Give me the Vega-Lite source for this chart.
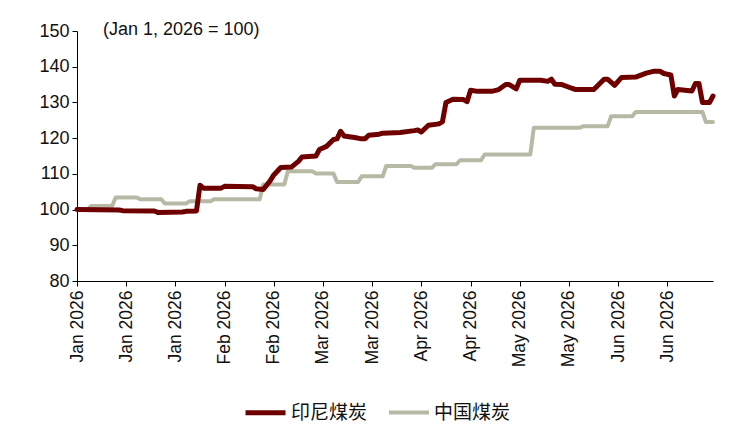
{
  "$schema": "https://vega.github.io/schema/vega-lite/v6.json",
  "width": 636,
  "height": 250,
  "autosize": {"type": "none"},
  "padding": {"left": 77, "top": 31, "right": 21, "bottom": 157},
  "background": "white",
  "title": {
    "text": "(Jan 1, 2026 = 100)",
    "anchor": "start",
    "frame": "group",
    "dx": 26,
    "offset": -17,
    "font": "Liberation Sans",
    "fontSize": 18,
    "fontWeight": "normal",
    "color": "#111111"
  },
  "config": {
    "view": {"stroke": null},
    "font": "Liberation Sans",
    "axis": {
      "grid": false,
      "domainColor": "black",
      "tickColor": "black",
      "labelColor": "#111111",
      "labelFont": "Liberation Sans",
      "labelFontSize": 17.5,
      "labelOverlap": false,
      "tickSize": 5,
      "title": null
    }
  },
  "data": {
    "values": [
      {"series": "中国煤炭", "date": "2026-01-01", "value": 100.0},
      {"series": "中国煤炭", "date": "2026-01-04", "value": 100.0},
      {"series": "中国煤炭", "date": "2026-01-05", "value": 101.0},
      {"series": "中国煤炭", "date": "2026-01-11", "value": 101.0},
      {"series": "中国煤炭", "date": "2026-01-12", "value": 103.4},
      {"series": "中国煤炭", "date": "2026-01-18", "value": 103.4},
      {"series": "中国煤炭", "date": "2026-01-19", "value": 102.9},
      {"series": "中国煤炭", "date": "2026-01-25", "value": 102.9},
      {"series": "中国煤炭", "date": "2026-01-26", "value": 101.7},
      {"series": "中国煤炭", "date": "2026-02-01", "value": 101.7},
      {"series": "中国煤炭", "date": "2026-02-02", "value": 102.3},
      {"series": "中国煤炭", "date": "2026-02-08", "value": 102.3},
      {"series": "中国煤炭", "date": "2026-02-09", "value": 102.9},
      {"series": "中国煤炭", "date": "2026-02-22", "value": 102.9},
      {"series": "中国煤炭", "date": "2026-02-23", "value": 107.0},
      {"series": "中国煤炭", "date": "2026-03-01", "value": 107.0},
      {"series": "中国煤炭", "date": "2026-03-02", "value": 110.7},
      {"series": "中国煤炭", "date": "2026-03-09", "value": 110.7},
      {"series": "中国煤炭", "date": "2026-03-10", "value": 110.1},
      {"series": "中国煤炭", "date": "2026-03-15", "value": 110.1},
      {"series": "中国煤炭", "date": "2026-03-16", "value": 107.7},
      {"series": "中国煤炭", "date": "2026-03-22", "value": 107.7},
      {"series": "中国煤炭", "date": "2026-03-23", "value": 109.3},
      {"series": "中国煤炭", "date": "2026-03-29", "value": 109.3},
      {"series": "中国煤炭", "date": "2026-03-30", "value": 112.2},
      {"series": "中国煤炭", "date": "2026-04-06", "value": 112.2},
      {"series": "中国煤炭", "date": "2026-04-07", "value": 111.7},
      {"series": "中国煤炭", "date": "2026-04-12", "value": 111.7},
      {"series": "中国煤炭", "date": "2026-04-13", "value": 112.7},
      {"series": "中国煤炭", "date": "2026-04-19", "value": 112.7},
      {"series": "中国煤炭", "date": "2026-04-20", "value": 113.8},
      {"series": "中国煤炭", "date": "2026-04-26", "value": 113.8},
      {"series": "中国煤炭", "date": "2026-04-27", "value": 115.4},
      {"series": "中国煤炭", "date": "2026-05-10", "value": 115.4},
      {"series": "中国煤炭", "date": "2026-05-11", "value": 122.9},
      {"series": "中国煤炭", "date": "2026-05-24", "value": 122.9},
      {"series": "中国煤炭", "date": "2026-05-25", "value": 123.3},
      {"series": "中国煤炭", "date": "2026-06-01", "value": 123.3},
      {"series": "中国煤炭", "date": "2026-06-02", "value": 126.1},
      {"series": "中国煤炭", "date": "2026-06-08", "value": 126.1},
      {"series": "中国煤炭", "date": "2026-06-09", "value": 127.3},
      {"series": "中国煤炭", "date": "2026-06-28", "value": 127.3},
      {"series": "中国煤炭", "date": "2026-06-29", "value": 124.5},
      {"series": "中国煤炭", "date": "2026-07-01", "value": 124.5},
      {"series": "印尼煤炭", "date": "2026-01-01", "value": 100.0},
      {"series": "印尼煤炭", "date": "2026-01-13", "value": 99.9},
      {"series": "印尼煤炭", "date": "2026-01-14", "value": 99.7},
      {"series": "印尼煤炭", "date": "2026-01-23", "value": 99.6},
      {"series": "印尼煤炭", "date": "2026-01-24", "value": 99.2},
      {"series": "印尼煤炭", "date": "2026-01-31", "value": 99.3},
      {"series": "印尼煤炭", "date": "2026-02-01", "value": 99.5},
      {"series": "印尼煤炭", "date": "2026-02-04", "value": 99.6},
      {"series": "印尼煤炭", "date": "2026-02-05", "value": 106.8},
      {"series": "印尼煤炭", "date": "2026-02-06", "value": 106.0},
      {"series": "印尼煤炭", "date": "2026-02-11", "value": 106.0},
      {"series": "印尼煤炭", "date": "2026-02-12", "value": 106.5},
      {"series": "印尼煤炭", "date": "2026-02-20", "value": 106.4},
      {"series": "印尼煤炭", "date": "2026-02-21", "value": 105.8},
      {"series": "印尼煤炭", "date": "2026-02-23", "value": 105.6},
      {"series": "印尼煤炭", "date": "2026-02-25", "value": 108.1},
      {"series": "印尼煤炭", "date": "2026-02-26", "value": 109.7},
      {"series": "印尼煤炭", "date": "2026-02-28", "value": 111.8},
      {"series": "印尼煤炭", "date": "2026-03-03", "value": 111.9},
      {"series": "印尼煤炭", "date": "2026-03-05", "value": 113.5},
      {"series": "印尼煤炭", "date": "2026-03-06", "value": 114.7},
      {"series": "印尼煤炭", "date": "2026-03-10", "value": 115.0},
      {"series": "印尼煤炭", "date": "2026-03-11", "value": 116.8},
      {"series": "印尼煤炭", "date": "2026-03-13", "value": 117.7},
      {"series": "印尼煤炭", "date": "2026-03-15", "value": 119.6},
      {"series": "印尼煤炭", "date": "2026-03-16", "value": 119.8},
      {"series": "印尼煤炭", "date": "2026-03-17", "value": 121.9},
      {"series": "印尼煤炭", "date": "2026-03-18", "value": 120.6},
      {"series": "印尼煤炭", "date": "2026-03-21", "value": 120.2},
      {"series": "印尼煤炭", "date": "2026-03-23", "value": 119.8},
      {"series": "印尼煤炭", "date": "2026-03-24", "value": 119.8},
      {"series": "印尼煤炭", "date": "2026-03-25", "value": 120.8},
      {"series": "印尼煤炭", "date": "2026-03-28", "value": 121.1},
      {"series": "印尼煤炭", "date": "2026-03-29", "value": 121.4},
      {"series": "印尼煤炭", "date": "2026-04-03", "value": 121.6},
      {"series": "印尼煤炭", "date": "2026-04-07", "value": 122.1},
      {"series": "印尼煤炭", "date": "2026-04-08", "value": 122.3},
      {"series": "印尼煤炭", "date": "2026-04-09", "value": 121.7},
      {"series": "印尼煤炭", "date": "2026-04-11", "value": 123.6},
      {"series": "印尼煤炭", "date": "2026-04-14", "value": 124.0},
      {"series": "印尼煤炭", "date": "2026-04-15", "value": 124.6},
      {"series": "印尼煤炭", "date": "2026-04-16", "value": 130.0},
      {"series": "印尼煤炭", "date": "2026-04-18", "value": 130.9},
      {"series": "印尼煤炭", "date": "2026-04-21", "value": 130.8},
      {"series": "印尼煤炭", "date": "2026-04-22", "value": 130.2},
      {"series": "印尼煤炭", "date": "2026-04-23", "value": 133.4},
      {"series": "印尼煤炭", "date": "2026-04-25", "value": 133.1},
      {"series": "印尼煤炭", "date": "2026-04-29", "value": 133.1},
      {"series": "印尼煤炭", "date": "2026-05-01", "value": 133.6},
      {"series": "印尼煤炭", "date": "2026-05-03", "value": 135.0},
      {"series": "印尼煤炭", "date": "2026-05-04", "value": 135.0},
      {"series": "印尼煤炭", "date": "2026-05-06", "value": 133.8},
      {"series": "印尼煤炭", "date": "2026-05-07", "value": 136.2},
      {"series": "印尼煤炭", "date": "2026-05-13", "value": 136.2},
      {"series": "印尼煤炭", "date": "2026-05-15", "value": 135.9},
      {"series": "印尼煤炭", "date": "2026-05-16", "value": 136.5},
      {"series": "印尼煤炭", "date": "2026-05-17", "value": 135.1},
      {"series": "印尼煤炭", "date": "2026-05-19", "value": 135.0},
      {"series": "印尼煤炭", "date": "2026-05-22", "value": 133.9},
      {"series": "印尼煤炭", "date": "2026-05-23", "value": 133.6},
      {"series": "印尼煤炭", "date": "2026-05-28", "value": 133.6},
      {"series": "印尼煤炭", "date": "2026-05-29", "value": 134.5},
      {"series": "印尼煤炭", "date": "2026-05-31", "value": 136.5},
      {"series": "印尼煤炭", "date": "2026-06-01", "value": 136.5},
      {"series": "印尼煤炭", "date": "2026-06-03", "value": 134.8},
      {"series": "印尼煤炭", "date": "2026-06-05", "value": 137.0},
      {"series": "印尼煤炭", "date": "2026-06-09", "value": 137.1},
      {"series": "印尼煤炭", "date": "2026-06-12", "value": 138.2},
      {"series": "印尼煤炭", "date": "2026-06-14", "value": 138.7},
      {"series": "印尼煤炭", "date": "2026-06-16", "value": 138.7},
      {"series": "印尼煤炭", "date": "2026-06-17", "value": 138.1},
      {"series": "印尼煤炭", "date": "2026-06-19", "value": 137.7},
      {"series": "印尼煤炭", "date": "2026-06-20", "value": 131.8},
      {"series": "印尼煤炭", "date": "2026-06-21", "value": 133.6},
      {"series": "印尼煤炭", "date": "2026-06-25", "value": 133.2},
      {"series": "印尼煤炭", "date": "2026-06-26", "value": 135.3},
      {"series": "印尼煤炭", "date": "2026-06-27", "value": 135.3},
      {"series": "印尼煤炭", "date": "2026-06-28", "value": 130.0},
      {"series": "印尼煤炭", "date": "2026-06-30", "value": 130.0},
      {"series": "印尼煤炭", "date": "2026-07-01", "value": 131.8}
    ]
  },
  "mark": {"type": "line", "strokeJoin": "round", "strokeCap": "round"},
  "encoding": {
    "x": {
      "field": "date",
      "type": "temporal",
      "scale": {
        "type": "utc",
        "domain": [
          {"year": 2026, "month": 1, "date": 1, "utc": true},
          {"year": 2026, "month": 7, "date": 1, "utc": true}
        ]
      },
      "axis": {
        "format": "%b %Y",
        "labelAngle": -90,
        "labelPadding": 4,
        "values": [
          {"year": 2026, "month": 1, "date": 1, "utc": true},
          {"year": 2026, "month": 1, "date": 15, "utc": true},
          {"year": 2026, "month": 1, "date": 29, "utc": true},
          {"year": 2026, "month": 2, "date": 12, "utc": true},
          {"year": 2026, "month": 2, "date": 26, "utc": true},
          {"year": 2026, "month": 3, "date": 12, "utc": true},
          {"year": 2026, "month": 3, "date": 26, "utc": true},
          {"year": 2026, "month": 4, "date": 9, "utc": true},
          {"year": 2026, "month": 4, "date": 23, "utc": true},
          {"year": 2026, "month": 5, "date": 7, "utc": true},
          {"year": 2026, "month": 5, "date": 21, "utc": true},
          {"year": 2026, "month": 6, "date": 4, "utc": true},
          {"year": 2026, "month": 6, "date": 18, "utc": true}
        ]
      }
    },
    "y": {
      "field": "value",
      "type": "quantitative",
      "scale": {"domain": [80, 150], "nice": false, "zero": false},
      "axis": {"values": [80, 90, 100, 110, 120, 130, 140, 150], "tickCount": 8, "labelPadding": 3, "labelFontSize": 18}
    },
    "color": {
      "field": "series",
      "type": "nominal",
      "scale": {"domain": ["印尼煤炭", "中国煤炭"], "range": ["#6E0000", "#B8B9A5"]},
      "legend": {
        "title": null,
        "orient": "none",
        "direction": "horizontal",
        "legendX": 166,
        "legendY": 359,
        "symbolType": "stroke",
        "symbolSize": 1600,
        "symbolStrokeWidth": 5,
        "labelFont": "Noto Sans CJK SC",
        "labelFontSize": 19,
        "labelColor": "#111111",
        "labelOffset": 3,
        "columnPadding": 13
      }
    },
    "strokeWidth": {
      "field": "series",
      "type": "nominal",
      "scale": {"domain": ["印尼煤炭", "中国煤炭"], "range": [5, 4]},
      "legend": null
    }
  }
}
